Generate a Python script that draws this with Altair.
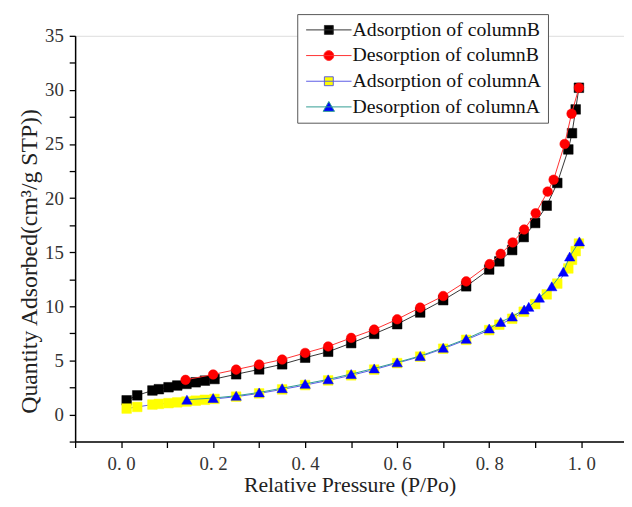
import altair as alt
import pandas as pd

# ---- data ----
series_names = ["Adsorption of columnB", "Desorption of columnB",
                "Adsorption of columnA", "Desorption of columnA"]

ads_x = [0.012, 0.035, 0.068, 0.082, 0.103, 0.122, 0.142, 0.162, 0.182, 0.203,
         0.25, 0.3, 0.35, 0.4, 0.45, 0.5, 0.55, 0.6, 0.65, 0.7, 0.75, 0.8,
         0.822, 0.85, 0.875, 0.9, 0.925, 0.948, 0.972, 0.98, 0.988, 0.995]
ads_B = [1.31, 1.77, 2.22, 2.34, 2.52, 2.68, 2.83, 2.98, 3.13, 3.28,
         3.72, 4.17, 4.64, 5.25, 5.8, 6.6, 7.45, 8.35, 9.43, 10.57, 11.85, 13.4,
         14.15, 15.2, 16.4, 17.7, 19.3, 21.4, 24.5, 26.0, 28.2, 30.2]
ads_A = [0.55, 0.7, 0.92, 0.98, 1.05, 1.12, 1.2, 1.28, 1.36, 1.44,
         1.65, 1.95, 2.32, 2.72, 3.15, 3.62, 4.15, 4.75, 5.35, 6.08, 6.9, 7.8,
         8.3, 8.85, 9.5, 10.2, 11.1, 12.1, 13.5, 14.3, 15.1, 15.8]

desB_x = [0.995, 0.979, 0.964, 0.94, 0.927, 0.901, 0.876, 0.851, 0.825, 0.801,
          0.75, 0.7, 0.65, 0.6, 0.55, 0.5, 0.45, 0.4, 0.35, 0.3, 0.25, 0.2, 0.14]
desB_y = [30.2, 27.8, 25.0, 21.7, 20.6, 18.6, 17.1, 15.9, 14.85, 13.9,
          12.3, 10.95, 9.88, 8.8, 7.85, 7.08, 6.29, 5.69, 5.08, 4.62, 4.15, 3.7, 3.2]

desA_x = [0.996, 0.975, 0.961, 0.936, 0.909, 0.886, 0.876, 0.85, 0.825, 0.8,
          0.75, 0.7, 0.65, 0.6, 0.55, 0.5, 0.45, 0.4, 0.35, 0.3, 0.25, 0.2, 0.143]
desA_y = [16.0, 14.6, 13.2, 11.85, 10.8, 9.95, 9.7, 9.05, 8.55, 7.95,
          6.99, 6.17, 5.41, 4.82, 4.26, 3.74, 3.25, 2.83, 2.43, 2.04, 1.73, 1.52, 1.37]

marker_fill = ["#000000", "#ff0000", "#ffff00", "#0000ff"]
line_color = ["#333333", "#ff3030", "#5a5ae6", "#2f9c92"]
marker_shape = ["square", "circle", "square", "triangle-up"]
legend_paths = [
    "M-4.6,0H4.6M-0.9,-0.9H0.9V0.9H-0.9Z",
    "M-4.6,0H4.6M1,0A1,1,0,1,1,-1,0A1,1,0,1,1,1,0Z",
    "M-4.6,0H4.6M-0.9,-0.9H0.9V0.9H-0.9Z",
    "M-4.6,0H4.6M0,-1.1L1.15,0.9L-1.15,0.9Z",
]

frames = []
for name, xs, ys in [(series_names[0], ads_x, ads_B),
                     (series_names[1], desB_x, desB_y),
                     (series_names[2], ads_x, ads_A),
                     (series_names[3], desA_x, desA_y)]:
    frames.append(pd.DataFrame({"p": xs, "q": ys, "series": name}))
df = pd.concat(frames, ignore_index=True)

FONT = "Liberation Serif"

x_ticks = [round(-0.1 + 0.1 * i, 1) for i in range(12)]
y_ticks = [-2.5 + 2.5 * i for i in range(16)]

xenc = alt.X("p:Q", scale=alt.Scale(domain=[-0.1, 1.093], nice=False, zero=False),
             axis=alt.Axis(values=x_ticks, grid=False, title="Relative Pressure (P/Po)",
                           labelExpr="(datum.value >= -0.001 && datum.value <= 1.001 && round(datum.value*10) % 2 == 0) ? replace(format(datum.value, '.1f'), '.', '. ') : ''",
                           labelFont=FONT, labelFontSize=19, labelColor="#333333",
                           titleFont=FONT, titleFontSize=22, titleFontWeight="normal",
                           titleColor="#222222", titlePadding=2,
                           domainColor="#000000", domainWidth=1.5, tickColor="#000000",
                           tickWidth=1.3, tickSize=6, labelPadding=7, labelFlush=False,
                           labelOverlap=False))
yenc = alt.Y("q:Q", scale=alt.Scale(domain=[-2.5, 35], nice=False, zero=False),
             axis=alt.Axis(values=y_ticks, grid=False,
                           title="Quantity Adsorbed(cm³/g STP))",
                           labelExpr="(datum.value >= 0 && datum.value % 5 == 0) ? format(datum.value, 'd') : ''",
                           labelFont=FONT, labelFontSize=19, labelColor="#333333",
                           titleFont=FONT, titleFontSize=24, titleFontWeight="normal",
                           titleColor="#222222", titlePadding=3, titleY=228,
                           domainColor="#000000", domainWidth=1.5, tickColor="#000000",
                           tickWidth=1.3, tickSize=6, labelPadding=6, labelFlush=False,
                           labelOverlap=False))

base = alt.Chart(df)
layers = []
for i, name in enumerate(series_names):
    sub = base.transform_filter(alt.datum.series == name)
    layers.append(sub.mark_line(color=line_color[i], strokeWidth=1).encode(
        x=xenc, y=yenc, order=alt.Order("p:Q")))
    layers.append(sub.mark_point(shape=marker_shape[i], filled=True, fill=marker_fill[i],
                                 stroke=marker_fill[i], strokeWidth=0.5, opacity=1,
                                 size=95 if marker_shape[i] != "triangle-up" else 110)
                  .encode(x=xenc, y=yenc))

leg = alt.Legend(title=None, orient="none", legendX=225, legendY=-22,
                 labelFont=FONT, labelFontSize=20, labelColor="#111111", labelLimit=0,
                 symbolSize=100, symbolStrokeWidth=1, symbolOpacity=1,
                 symbolOffset=16, labelOffset=14, padding=6, rowPadding=6,
                 strokeColor="#555555", fillColor="#ffffff", cornerRadius=0)

legend_layer = base.mark_point(filled=True, opacity=0, size=100).encode(
    x=xenc, y=yenc,
    fill=alt.Fill("series:N", scale=alt.Scale(domain=series_names, range=marker_fill), legend=leg),
    stroke=alt.Stroke("series:N", scale=alt.Scale(domain=series_names, range=line_color), legend=leg),
    shape=alt.Shape("series:N", scale=alt.Scale(domain=series_names, range=legend_paths), legend=leg),
)

chart = alt.layer(*layers, legend_layer).properties(
    width=556, height=411,
    autosize=alt.AutoSizeParams(type="none"),
    padding={"left": 68, "top": 25, "right": 0, "bottom": 55},
).configure_view(stroke=None).configure(background="#ffffff")

chart.save("out.html", embed_options={"renderer": "svg", "actions": False})
